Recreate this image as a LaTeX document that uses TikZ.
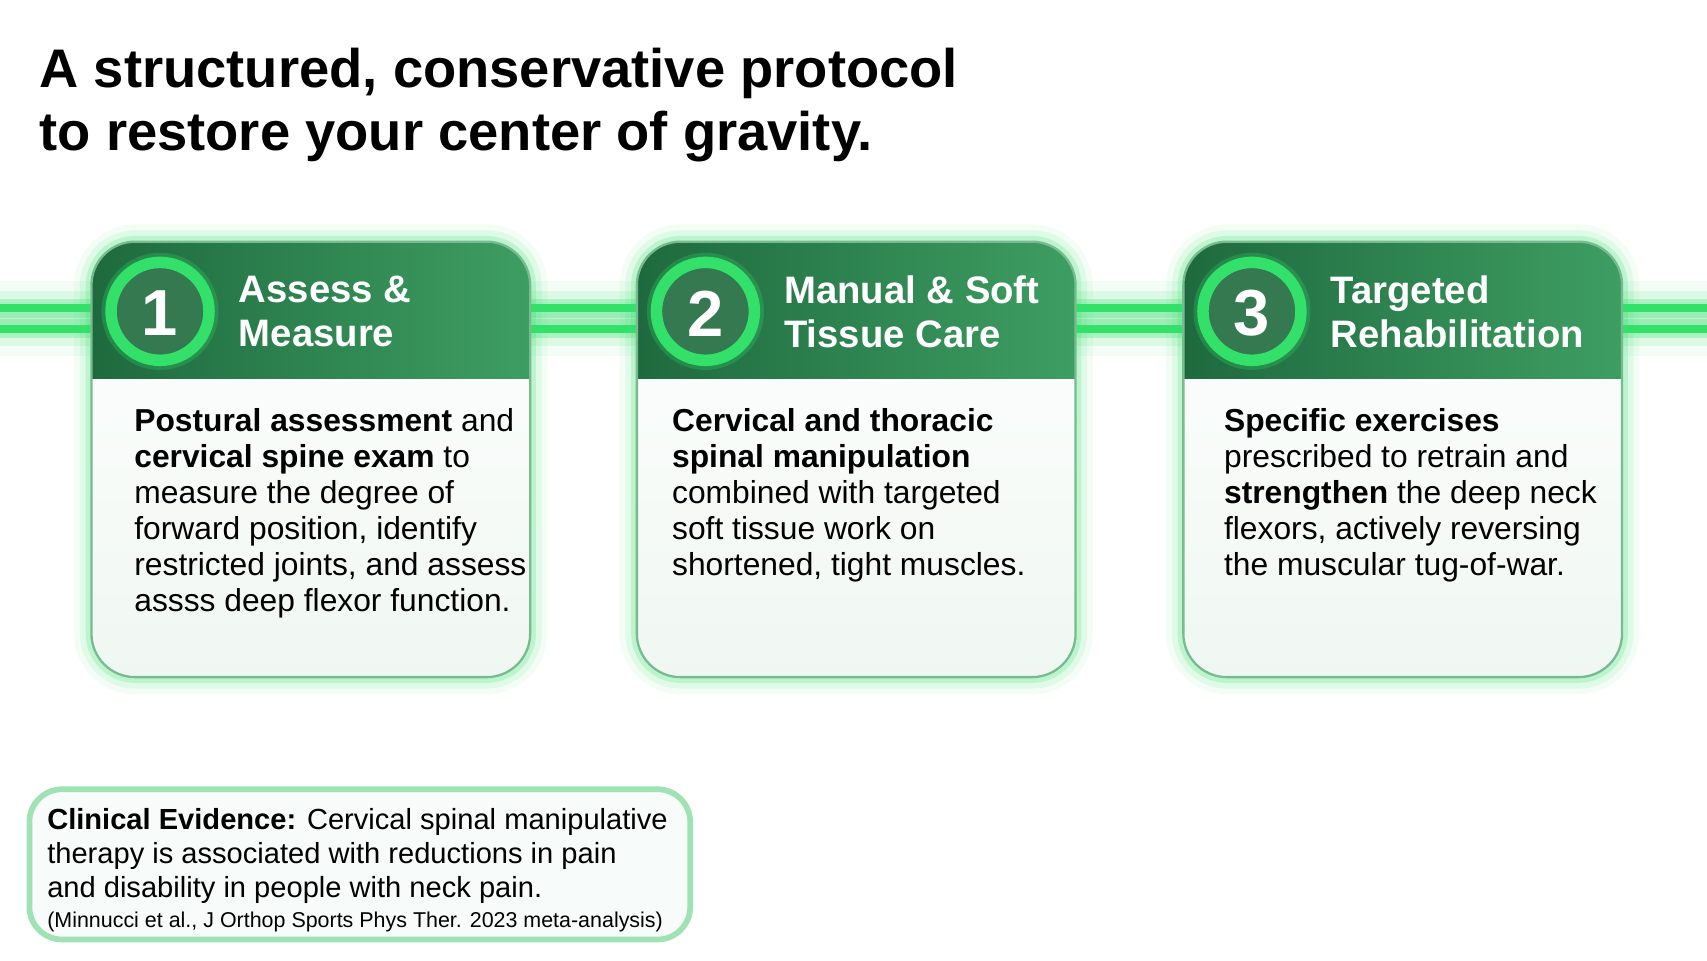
\documentclass[tikz,border=0pt]{standalone}
\usepackage{fontspec}
\setmainfont{Liberation Sans}
\usetikzlibrary{positioning}

\definecolor{HeadDark}{HTML}{1E6A3E}
\definecolor{HeadLight}{HTML}{3E9E62}
\definecolor{Glow}{HTML}{33E06A}
\definecolor{EvBorder}{HTML}{9FE3B4}

\tikzset{
    card/.style={rounded corners=4mm, draw=HeadLight!70, line width=0.6pt},
    headtext/.style={anchor=west, text=white, align=left, font=\fontsize{10}{11.5}\selectfont\bfseries},
    numtext/.style={text=white, font=\fontsize{17}{17}\selectfont\bfseries},
    bodytext/.style={anchor=north west, align=left, font=\fontsize{8.3}{9.4}\selectfont},
}

\begin{document}
\begin{tikzpicture}[x=0.01cm, y=-0.01cm]
    \useasboundingbox[fill=white] (0,0) rectangle (1568,882);

    % title
    \node[anchor=north west, align=left, font=\fontsize{14.2}{16.5}\selectfont\bfseries] (title) at (24,32)
        {A structured, conservative protocol\\to restore your center of gravity.};

    % glowing rails
    \foreach \w/\o in {14/0.06, 9/0.12, 5/0.25}{
        \draw[Glow, line width=\w pt, opacity=\o] (0,283) -- (1568,283);
        \draw[Glow, line width=\w pt, opacity=\o] (0,302) -- (1568,302);
    }
    \draw[Glow, line width=2.2pt] (0,283) -- (1568,283);
    \draw[Glow, line width=2.2pt] (0,302) -- (1568,302);

    % cards
    \foreach \x/\n in {84/1, 585/2, 1087/3}{
        \foreach \w/\o in {9/0.06, 6/0.1, 3/0.2}
            \draw[Glow, line width=\w pt, opacity=\o, rounded corners=4mm] (\x,222) rectangle ++(403,400);
        \shade[rounded corners=4mm, top color=white, bottom color=HeadLight!8] (\x,222) rectangle ++(403,400);
        \begin{scope}
            \clip[rounded corners=4mm] (\x,222) rectangle ++(403,400);
            \shade[left color=HeadDark, right color=HeadLight] (\x,222) rectangle ++(403,126);
        \end{scope}
        \draw[card] (\x,222) rectangle ++(403,400);
        \draw[Glow, line width=5pt, opacity=0.25] (\x+63,286) circle (45);
        \draw[Glow, line width=3pt, fill=HeadDark!90] (\x+63,286) circle (45);
        \node[numtext] (num\n) at (\x+63,288) {\n};
    }

    % headings
    \node[headtext] (head1) at (207,286) {Assess \&\\Measure};
    \node[headtext] (head2) at (708,286) {Manual \& Soft\\Tissue Care};
    \node[headtext] (head3) at (1210,286) {Targeted\\Rehabilitation};

    % bodies
    \node[bodytext] (body1) at (111,363) {\textbf{Postural assessment} and\\
        \textbf{cervical spine exam} to\\measure the degree of\\forward position, identify\\
        restricted joints, and assess\\assss deep flexor function.};
    \node[bodytext] (body2) at (605,363) {\textbf{Cervical and thoracic}\\
        \textbf{spinal manipulation}\\combined with targeted\\soft tissue work on\\shortened, tight muscles.};
    \node[bodytext] (body3) at (1112,363) {\textbf{Specific exercises}\\prescribed to retrain and\\
        \textbf{strengthen} the deep neck\\flexors, actively reversing\\the muscular tug-of-war.};

    % evidence box
    \draw[EvBorder, line width=1.5pt, rounded corners=3mm, fill=HeadLight!4] (27,725) rectangle (634,863);
    \node[anchor=north west, align=left, font=\fontsize{7.6}{8.9}\selectfont] (evidence) at (31,730)
        {\textbf{Clinical Evidence:} Cervical spinal manipulative\\therapy is associated with reductions in pain\\
        and disability in people with neck pain.\\[-1pt]
        {\fontsize{5.6}{7}\selectfont (Minnucci et al., J Orthop Sports Phys Ther. 2023 meta-analysis)}};
\end{tikzpicture}
\end{document}
